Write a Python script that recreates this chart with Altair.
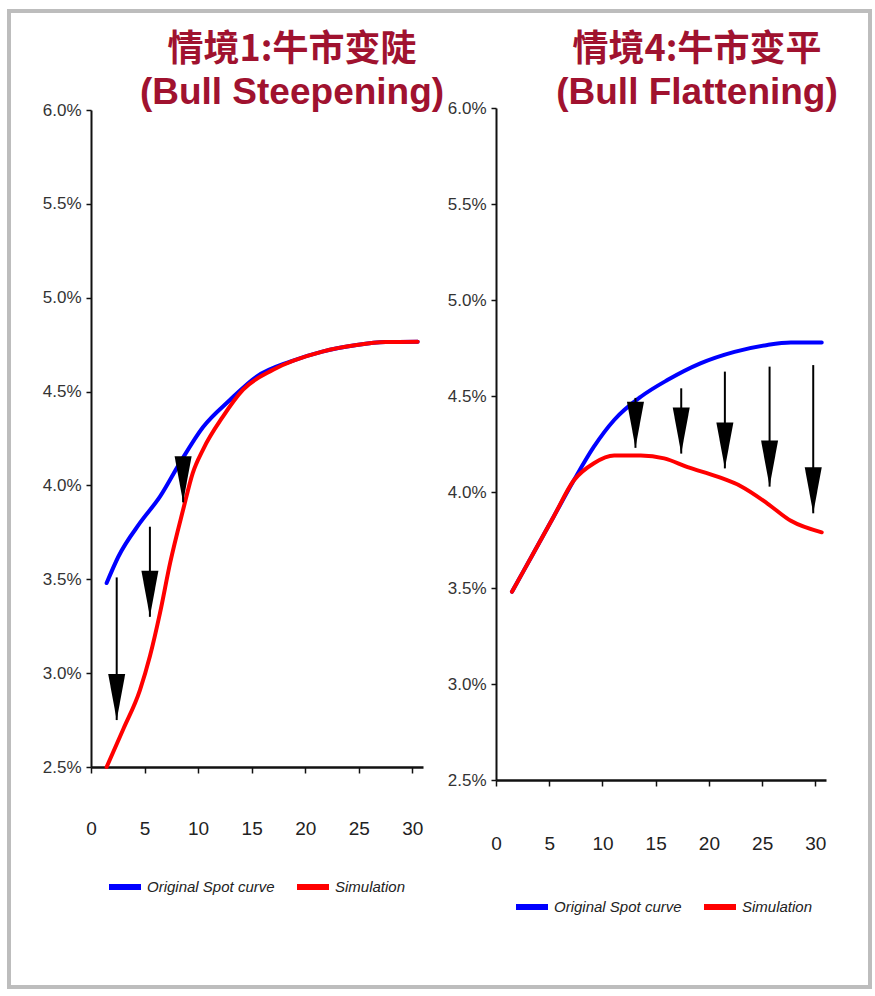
import altair as alt
import pandas as pd

# ---- shared axis ticks and series ----
x_ticks = [0, 5, 10, 15, 20, 25, 30]
y_ticks = [2.5, 3.0, 3.5, 4.0, 4.5, 5.0, 5.5, 6.0]
series_names = ["Original Spot curve", "Simulation"]
series_colors = ["#0000ff", "#ff0000"]

# ---- scenario 1: bull steepening (yield in %) ----
steep_orig_x = [1.46, 2.55, 4.57, 6.44, 8.3, 10.45, 12.97, 15.46, 18.6, 21.6, 24.8, 27.5, 30.5]
steep_orig_y = [3.48, 3.62, 3.80, 3.94, 4.12, 4.31, 4.455, 4.58, 4.66, 4.713, 4.748, 4.764, 4.766]
steep_sim_x = [1.46, 3.0, 4.57, 5.5, 6.44, 7.4, 8.6, 9.5, 10.45, 12.3, 14.2, 17.0, 21.6, 24.8, 27.5, 30.5]
steep_sim_y = [2.50, 2.70, 2.91, 3.09, 3.32, 3.59, 3.87, 4.066, 4.19, 4.365, 4.51, 4.616, 4.713, 4.748, 4.764, 4.766]
steep_arrow_x = [2.4, 5.5, 8.6]
steep_arrow_from = [3.51, 3.78, 4.15]
steep_arrow_to = [2.75, 3.30, 3.91]

# ---- scenario 4: bull flattening (yield in %) ----
flat_orig_x = [1.5, 3.5, 5.4, 7.3, 9.2, 11.1, 13.6, 16.1, 19.2, 22.4, 25.5, 27.7, 30.6]
flat_orig_y = [3.48, 3.68, 3.87, 4.06, 4.236, 4.375, 4.496, 4.583, 4.67, 4.73, 4.766, 4.778, 4.778]
flat_sim_x = [1.5, 3.5, 5.4, 7.3, 9.2, 11.1, 13.6, 15.8, 18.0, 20.8, 23.0, 25.5, 27.7, 30.6]
flat_sim_y = [3.48, 3.68, 3.87, 4.06, 4.15, 4.19, 4.19, 4.175, 4.13, 4.08, 4.03, 3.94, 3.85, 3.79]
flat_arrow_x = [13.1, 17.4, 21.5, 25.7, 29.8]
flat_arrow_from = [4.49, 4.54, 4.627, 4.653, 4.661]
flat_arrow_to = [4.23, 4.20, 4.123, 4.028, 3.889]

steep_title = ["情境1:牛市变陡", "(Bull Steepening)"]
flat_title = ["情境4:牛市变平", "(Bull Flattening)"]

LABEL_FONT = "Liberation Sans, Arial, sans-serif"
TITLE_RED = "#a0122f"
# arrow head: tip at the origin, base two units above it
HEAD = "M-0.37,-2 L0.37,-2 L0,0 Z"


def curves_frame(ox, oy, sx, sy):
    a = pd.DataFrame({"x": ox, "v": oy, "series": series_names[0]})
    b = pd.DataFrame({"x": sx, "v": sy, "series": series_names[1]})
    return pd.concat([a, b], ignore_index=True)


def panel(curves, ax, a_from, a_to, x_range, y_range, x_off, y_off,
          label_pad, leg_x, leg_y, titles, title_x):
    x_axis = alt.Axis(orient="bottom", offset=x_off, values=x_ticks, title=None,
                      grid=False, labelFlush=False, labelFont=LABEL_FONT, labelFontSize=19,
                      labelColor="#222", labelBaseline="middle", labelPadding=label_pad,
                      tickSize=6, tickColor="#111", tickWidth=1.5,
                      domainColor="#111", domainWidth=2.5)
    y_axis = alt.Axis(orient="left", offset=y_off, values=y_ticks, title=None,
                      grid=False, labelExpr="format(datum.value, '.1f') + '%'",
                      labelFont=LABEL_FONT, labelFontSize=17, labelColor="#333",
                      labelPadding=5, tickSize=5, tickColor="#111", tickWidth=1.5,
                      domainColor="#111", domainWidth=2)
    xs = alt.Scale(domain=[0, 31], range=x_range)
    ys = alt.Scale(domain=[2.5, 6.0], range=y_range)

    lines = alt.Chart(curves).mark_line(
        strokeWidth=4, interpolate="monotone", strokeCap="round"
    ).encode(
        x=alt.X("x:Q", scale=xs, axis=x_axis),
        y=alt.Y("v:Q", scale=ys, axis=y_axis),
        color=alt.Color(
            "series:N",
            scale=alt.Scale(domain=series_names, range=series_colors),
            legend=alt.Legend(orient="none", legendX=leg_x, legendY=leg_y,
                              direction="horizontal", title=None,
                              symbolType="stroke", symbolStrokeWidth=6,
                              symbolSize=1024, labelFont=LABEL_FONT,
                              labelFontSize=15, labelFontStyle="italic",
                              labelColor="#222", labelOffset=3,
                              columnPadding=10, padding=0),
        ),
        detail="series:N",
    )

    arrows = pd.DataFrame({"x": ax, "y0": a_from, "y1": a_to})
    shafts = alt.Chart(arrows).mark_rule(color="black", strokeWidth=2).encode(
        x=alt.X("x:Q", scale=xs, axis=x_axis),
        y=alt.Y("y0:Q", scale=ys, axis=y_axis),
        y2="y1:Q",
    )
    heads = alt.Chart(arrows).mark_point(
        shape=HEAD, filled=True, color="black", opacity=1, size=2116, strokeWidth=0
    ).encode(
        x=alt.X("x:Q", scale=xs, axis=x_axis),
        y=alt.Y("y1:Q", scale=ys, axis=y_axis),
    )

    t1 = alt.Chart(alt.Data(values=[{"t": titles[0]}])).mark_text(
        font="Noto Sans CJK SC", fontSize=36, fontWeight="bold", color=TITLE_RED,
        align="center", baseline="middle"
    ).encode(x=alt.value(title_x), y=alt.value(50), text="t:N")
    t2 = alt.Chart(alt.Data(values=[{"t": titles[1]}])).mark_text(
        font="Liberation Sans, Arial, sans-serif", fontSize=37, fontWeight="bold",
        color=TITLE_RED, align="center", baseline="middle"
    ).encode(x=alt.value(title_x), y=alt.value(93), text="t:N")

    return alt.layer(lines, shafts, heads, t1, t2)


steep = panel(curves_frame(steep_orig_x, steep_orig_y, steep_sim_x, steep_sim_y),
              steep_arrow_x, steep_arrow_from, steep_arrow_to,
              x_range=[91, 423], y_range=[767, 110], x_off=-229, y_off=-91,
              label_pad=55, leg_x=106, leg_y=868,
              titles=steep_title, title_x=292)
flat = panel(curves_frame(flat_orig_x, flat_orig_y, flat_sim_x, flat_sim_y),
             flat_arrow_x, flat_arrow_from, flat_arrow_to,
             x_range=[496, 826], y_range=[780, 108], x_off=-216, y_off=-496,
             label_pad=57, leg_x=513, leg_y=888,
             titles=flat_title, title_x=697)

frame = alt.Chart(alt.Data(values=[{}])).mark_rect(
    fillOpacity=0, stroke="#bdbdbd", strokeWidth=4
).encode(x=alt.value(9), x2=alt.value(870), y=alt.value(11), y2=alt.value(987))

chart = alt.layer(frame, steep, flat).resolve_scale(
    x="independent", y="independent", color="independent"
).properties(
    width=875, height=996, autosize="none", padding=0, background="white"
).configure_view(strokeWidth=0)

chart.save("out.html", embed_options={"renderer": "svg", "actions": False})
